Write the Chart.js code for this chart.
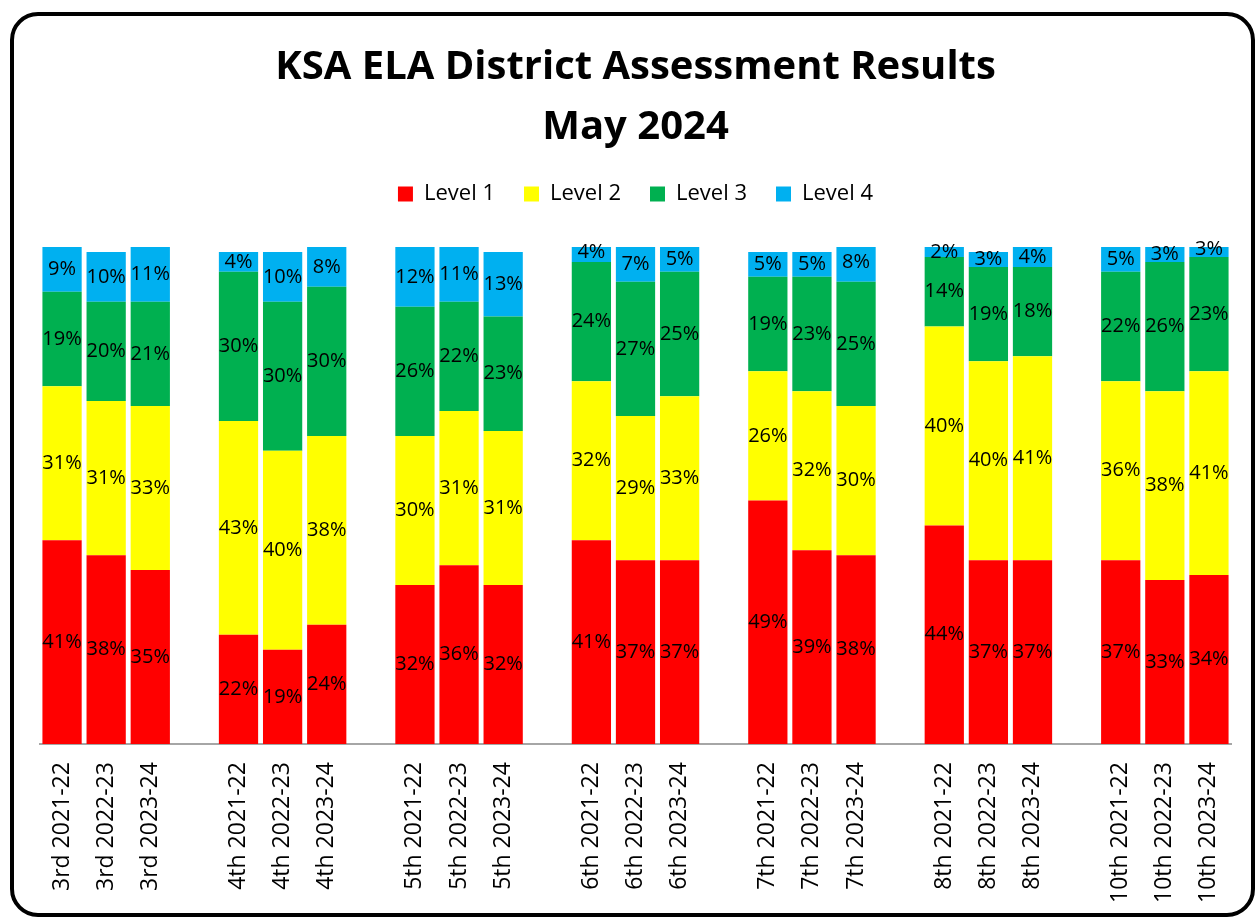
<!DOCTYPE html>
<html>
<head>
<meta charset="utf-8">
<script src="https://cdn.jsdelivr.net/npm/chart.js@4.4.1/dist/chart.umd.min.js"></script>
<style>
  html, body { margin: 0; padding: 0; background: #fff; }
  #wrap { position: relative; width: 1257px; height: 918px; }
</style>
</head>
<body>
<div id="wrap"><canvas id="ksaChart" width="1257" height="918"></canvas></div>
<script>
// grades and school years, three bars per grade
const grades = ['3rd', '4th', '5th', '6th', '7th', '8th', '10th'];
const years = ['2021-22', '2022-23', '2023-24'];

// percent of students at each level, in grade/year order
const level1 = [41, 38, 35, 22, 19, 24, 32, 36, 32, 41, 37, 37, 49, 39, 38, 44, 37, 37, 37, 33, 34];
const level2 = [31, 31, 33, 43, 40, 38, 30, 31, 31, 32, 29, 33, 26, 32, 30, 40, 40, 41, 36, 38, 41];
const level3 = [19, 20, 21, 30, 30, 30, 26, 22, 23, 24, 27, 25, 19, 23, 25, 14, 19, 18, 22, 26, 23];
const level4 = [9, 10, 11, 4, 10, 8, 12, 11, 13, 4, 7, 5, 5, 5, 8, 2, 3, 4, 5, 3, 3];

// empty slot between grade groups
const labels = [];
const slots = [];
grades.forEach((g, gi) => {
  if (gi > 0) { labels.push(''); slots.push(-1); }
  years.forEach((y, yi) => {
    labels.push(g + ' ' + y);
    slots.push(gi * 3 + yi);
  });
});
const spread = arr => slots.map(i => (i < 0 ? null : arr[i]));

const segmentLabels = {
  id: 'segmentLabels',
  afterDatasetsDraw(chart) {
    const ctx = chart.ctx;
    ctx.save();
    ctx.font = '20px "Open Sans"';
    ctx.fillStyle = '#000';
    ctx.textAlign = 'center';
    ctx.textBaseline = 'middle';
    chart.data.datasets.forEach((ds, i) => {
      chart.getDatasetMeta(i).data.forEach((bar, j) => {
        const v = ds.data[j];
        if (v == null) return;
        const { x, y, base } = bar.getProps(['x', 'y', 'base'], true);
        ctx.fillText(v + '%', x, (y + base) / 2);
      });
    });
    ctx.restore();
  }
};

// extra room under the legend
const legendGap = {
  id: 'legendGap',
  beforeLayout(chart) {
    const legend = chart.legend;
    if (legend && !legend._gap) {
      const fit = legend.fit;
      legend.fit = function () {
        fit.call(this);
        this.height += 32;
      };
      legend._gap = true;
    }
  }
};

const frame = {
  id: 'frame',
  afterDraw(chart) {
    const ctx = chart.ctx;
    ctx.save();
    ctx.strokeStyle = '#000';
    ctx.lineWidth = 4;
    ctx.beginPath();
    ctx.roundRect(12, 14, 1241, 901, 26);
    ctx.stroke();
    ctx.restore();
  }
};

const ctx = document.getElementById('ksaChart').getContext('2d');
new Chart(ctx, {
  type: 'bar',
  data: {
    labels: labels,
    datasets: [
      { label: 'Level 1', data: spread(level1), backgroundColor: '#FF0000' },
      { label: 'Level 2', data: spread(level2), backgroundColor: '#FFFF00' },
      { label: 'Level 3', data: spread(level3), backgroundColor: '#00B050' },
      { label: 'Level 4', data: spread(level4), backgroundColor: '#00B0F0' }
    ]
  },
  options: {
    responsive: false,
    animation: false,
    layout: { padding: { left: 40, right: 26, top: 38, bottom: 5 } },
    datasets: {
      bar: { barPercentage: 0.89, categoryPercentage: 1, borderWidth: 0 }
    },
    scales: {
      x: {
        stacked: true,
        grid: { display: false },
        border: { display: true, color: '#A6A6A6', width: 2 },
        ticks: {
          color: '#000',
          font: { family: '"Open Sans"', size: 23 },
          minRotation: 90,
          maxRotation: 90,
          autoSkip: false,
          padding: 10
        }
      },
      y: {
        stacked: true,
        display: false,
        min: 0,
        max: 100
      }
    },
    plugins: {
      title: {
        display: true,
        text: ['KSA ELA District Assessment Results', 'May 2024'],
        color: '#000',
        font: { family: '"Open Sans"', size: 40, weight: 'bold', lineHeight: 1.5 },
        padding: { top: 0, bottom: -4 }
      },
      legend: {
        labels: {
          color: '#000',
          font: { family: '"Open Sans"', size: 22 },
          boxWidth: 15,
          boxHeight: 15,
          padding: 29
        }
      },
      tooltip: { enabled: false }
    }
  },
  plugins: [segmentLabels, legendGap, frame]
});
</script>
</body>
</html>
